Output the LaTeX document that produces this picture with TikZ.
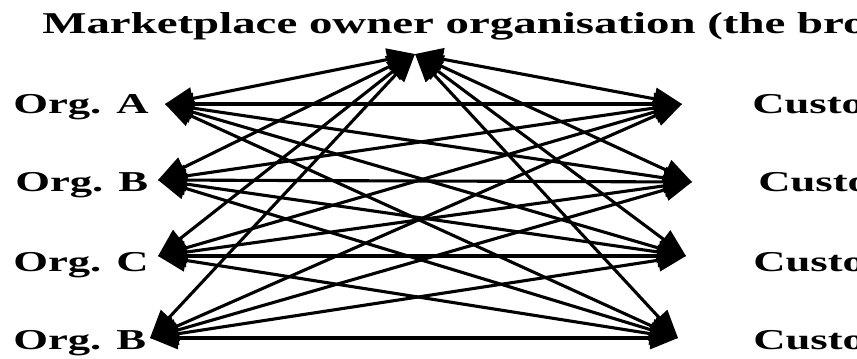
\documentclass[tikz,border=0pt]{standalone}
\usepackage{fontspec}
\setmainfont{Liberation Serif}[FakeStretch=1.55]
\usetikzlibrary{arrows.meta,positioning}
\tikzset{
 headline/.style={
 anchor=base west,
 inner sep=0pt,
 font=\fontsize{21.5}{24}\selectfont\bfseries
 },
 partylabel/.style={
 anchor=base west,
 inner sep=0pt,
 font=\fontsize{20.5}{24}\selectfont\bfseries
 },
 linkarrow/.style={{Triangle[length=7mm,width=5.5mm]}-{Triangle[length=7mm,width=5.5mm]}, line width=2.2pt}
}
\begin{document}
\begin{tikzpicture}[x=0.025cm, y=-0.025cm]
	\useasboundingbox (0,0) rectangle (857,358);
	\node[headline] (owner) at (42,33) {Marketplace owner organisation (the bro};

	\node[partylabel] (orgA) at (13,113) {Org. A};
	\node[partylabel] (orgB) at (15,191) {Org. B};
	\node[partylabel] (orgC) at (13,271) {Org. C};
	\node[partylabel] (orgD) at (13,349) {Org. B};

	\node[partylabel] (custA) at (752,113) {Custo};
	\node[partylabel] (custB) at (758,191) {Custo};
	\node[partylabel] (custC) at (753,271) {Custo};
	\node[partylabel] (custD) at (753,349) {Custo};

	% arrow ends
	\coordinate (hub) at (415,54);
	\coordinate (pA) at (165,104);
	\coordinate (pB) at (158,180);
	\coordinate (pC) at (158,256);
	\coordinate (pD) at (150,338);
	\coordinate (qA) at (682,104);
	\coordinate (qB) at (692,182);
	\coordinate (qC) at (686,256);
	\coordinate (qD) at (678,338);

	\draw[linkarrow] (pA) -- (hub);
	\draw[linkarrow] (pB) -- (hub);
	\draw[linkarrow] (pC) -- (hub);
	\draw[linkarrow] (pD) -- (hub);

	\draw[linkarrow] (qA) -- (hub);
	\draw[linkarrow] (qB) -- (hub);
	\draw[linkarrow] (qC) -- (hub);
	\draw[linkarrow] (qD) -- (hub);

	\draw[linkarrow] (pA) -- (qA);
	\draw[linkarrow] (pA) -- (qB);
	\draw[linkarrow] (pA) -- (qC);
	\draw[linkarrow] (pA) -- (qD);

	\draw[linkarrow] (pB) -- (qA);
	\draw[linkarrow] (pB) -- (qB);
	\draw[linkarrow] (pB) -- (qC);
	\draw[linkarrow] (pB) -- (qD);

	\draw[linkarrow] (pC) -- (qA);
	\draw[linkarrow] (pC) -- (qB);
	\draw[linkarrow] (pC) -- (qC);
	\draw[linkarrow] (pC) -- (qD);

	\draw[linkarrow] (pD) -- (qA);
	\draw[linkarrow] (pD) -- (qB);
	\draw[linkarrow] (pD) -- (qC);
	\draw[linkarrow] (pD) -- (qD);
\end{tikzpicture}
\end{document}
